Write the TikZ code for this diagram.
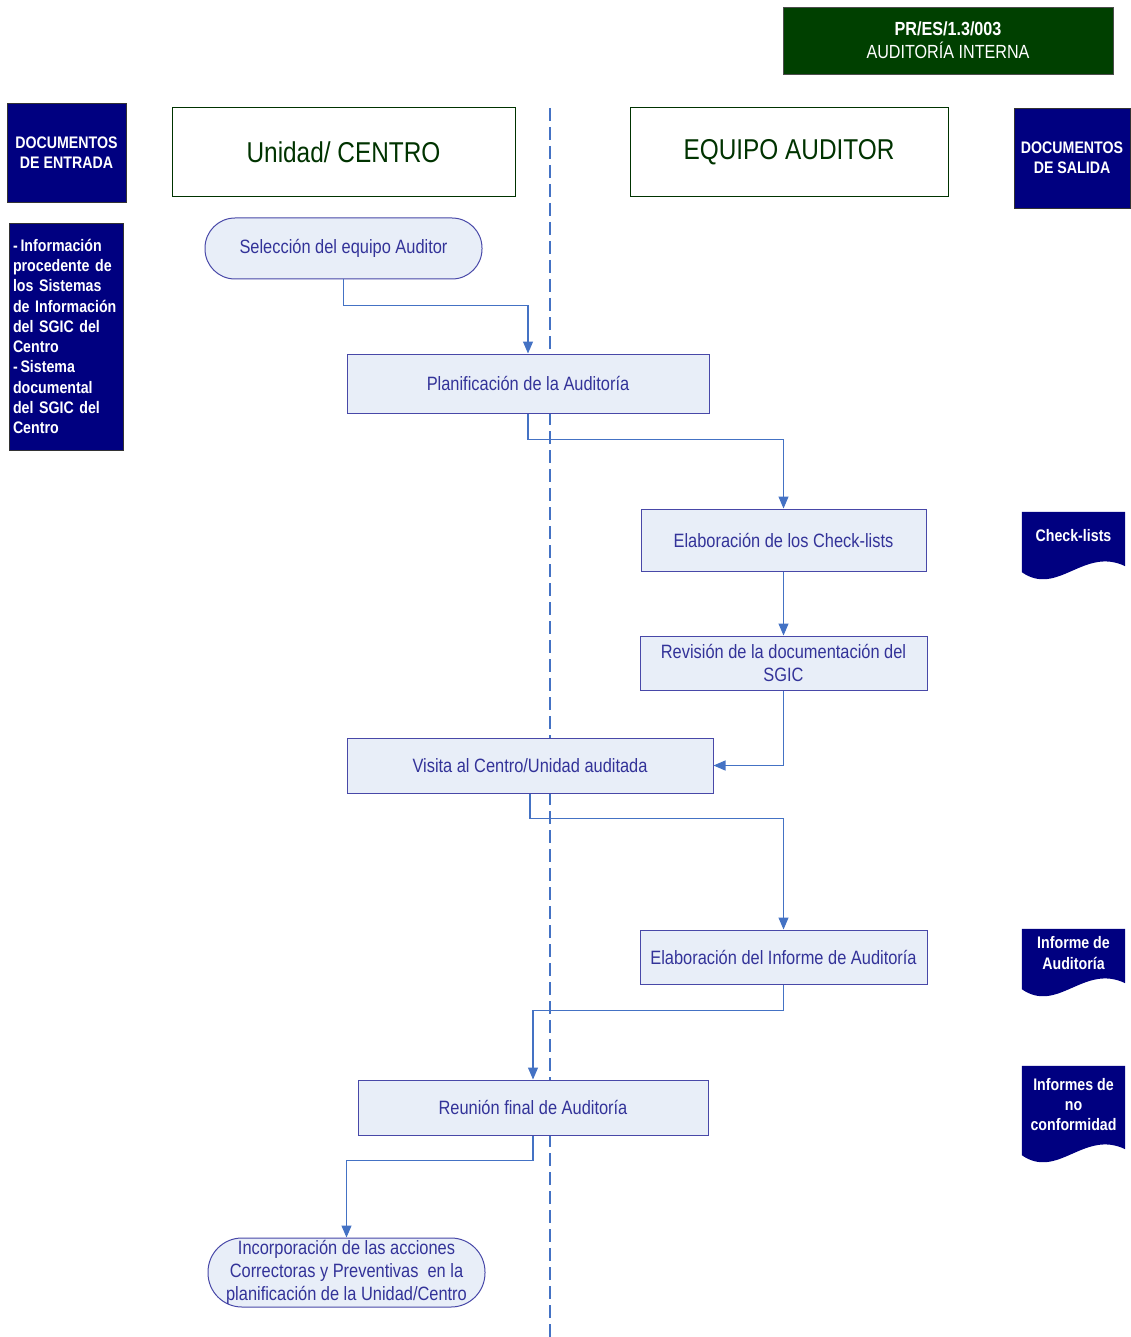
\documentclass[tikz,border=0pt]{standalone}
\usepackage{fontspec}
\setmainfont[FakeStretch=0.85]{Liberation Sans}
\definecolor{navy}{RGB}{0,0,128}
\definecolor{hdrgreen}{RGB}{0,64,0}
\definecolor{lanegreen}{RGB}{0,51,0}
\definecolor{flowfill}{RGB}{232,238,248}
\definecolor{flowdraw}{RGB}{72,72,168}
\definecolor{flowtext}{RGB}{51,51,153}
\definecolor{conn}{RGB}{68,114,196}
\usetikzlibrary{arrows.meta,backgrounds}

\begin{document}
\begin{tikzpicture}[x=1pt, y=-1pt, >={Triangle[length=12pt,width=10pt]}]
	\useasboundingbox (0,0) rectangle (1130,1337);
	% ------------------------------------------------------------------
	% STYLE DEFINITIONS
	% ------------------------------------------------------------------
	\tikzset{
		header/.style  = {draw=black!70, fill=hdrgreen, text=white, align=center, font=\fontsize{19}{23}\selectfont},
		lane/.style    = {draw=lanegreen, line width=1pt, fill=white, text=lanegreen, font=\fontsize{28.7}{32}\selectfont},
		docin/.style   = {draw=black!80, fill=navy, text=white, inner sep=2pt, font=\bfseries\fontsize{16.7}{20.3}\selectfont},
		docout/.style  = {text=white, align=center, inner sep=0pt, minimum width=103pt, minimum height=48pt, font=\bfseries\fontsize{16.7}{20.3}\selectfont},
		flowbox/.style = {draw=flowdraw, fill=flowfill, text=flowtext, line width=1pt, align=center, inner sep=2pt, font=\fontsize{19.3}{22.8}\selectfont},
		term/.style    = {flowbox, rounded corners=30pt},
		flow/.style    = {conn, line width=1.1pt, ->},
		lanesep/.style = {conn, line width=1.3pt, dash pattern=on 13pt off 6pt}
	}
	
	% --- Lane separator ---
	\draw[lanesep] (550,108) -- (550,1337);
	
	% --- Header and lanes ---
	\node[header, minimum width=330pt, minimum height=67pt] (code) at (948,40.5) {\textbf{PR/ES/1.3/003}\\AUDITORÍA INTERNA};
	\node[lane, minimum width=343pt, minimum height=89pt] (unidad) at (343.5,152.5) {Unidad/ CENTRO};
	\node[lane, minimum width=318pt, minimum height=89pt] (equipo) at (789,152.5) {EQUIPO AUDITOR};
	
	% --- Input and output documents ---
	\node[docin, align=center, minimum width=119pt, minimum height=99pt] (entrada) at (66.5,152.5) {DOCUMENTOS\\DE ENTRADA};
	\node[docin, align=left, inner sep=4pt, text width=106pt, minimum height=227pt] (inputs) at (66,336.5) {-\,Información\\procedente de\\los Sistemas\\de Información\\del SGIC del\\Centro\\-\,Sistema\\documental\\del SGIC del\\Centro};
	\node[docin, align=center, minimum width=116pt, minimum height=100pt] (salida) at (1072,158) {DOCUMENTOS\\DE SALIDA};
	
	\node[docout] (dchk) at (1073.5,536) {Check-lists};
	\node[docout] (dinf) at (1073.5,953) {Informe de\\Auditoría};
	\node[docout, minimum height=77pt] (dnoc) at (1073.5,1104.5) {Informes de\\no\\conformidad};
	
	\begin{pgfonlayer}{background}
		\foreach \d in {dchk,dinf,dnoc}
		\fill[navy] (\d.north west) -- (\d.north east) -- ([yshift=-6pt]\d.south east)
			.. controls ([xshift=62pt,yshift=14pt]\d.south west) and ([xshift=36pt,yshift=-37pt]\d.south west)
			.. ([yshift=-12pt]\d.south west) -- cycle;
	\end{pgfonlayer}
	
	% --- Process steps ---
	\node[term, minimum width=277pt, minimum height=61pt] (sel) at (343.5,248.5) {Selección del equipo Auditor};
	\node[flowbox, minimum width=362pt, minimum height=59pt] (plan) at (528,383.5) {Planificación de la Auditoría};
	\node[flowbox, minimum width=285pt, minimum height=62pt] (chk) at (783.5,540) {Elaboración de los Check-lists};
	\node[flowbox, minimum width=287pt, minimum height=54pt] (rev) at (783.5,663) {Revisión de la documentación del\\SGIC};
	\node[flowbox, minimum width=366pt, minimum height=55pt] (vis) at (530,765.5) {Visita al Centro/Unidad auditada};
	\node[flowbox, minimum width=287pt, minimum height=54pt] (inf) at (783.5,957) {Elaboración del Informe de Auditoría};
	\node[flowbox, minimum width=350pt, minimum height=55pt] (reu) at (533,1107.5) {Reunión final de Auditoría};
	\node[term, rounded corners=34pt, minimum width=277pt, minimum height=69pt] (inc) at (346.5,1272.5) {Incorporación de las acciones\\Correctoras y Preventivas\ \ en la\\planificación de la Unidad/Centro};
	
	% --- Connectors ---
	\draw[flow] (sel.south) -- ++(0,26) -| (plan.north);
	\draw[flow] (plan.south) -- ++(0,26) -| (chk.north);
	\draw[flow] (chk.south) -- (rev.north);
	\draw[flow] (rev.south) |- (vis.east);
	\draw[flow] (vis.south) -- ++(0,25) -| (inf.north);
	\draw[flow] (inf.south) -- ++(0,26) -| (reu.north);
	\draw[flow] (reu.south) -- ++(0,25) -| (inc.north);
	
\end{tikzpicture}
\end{document}
